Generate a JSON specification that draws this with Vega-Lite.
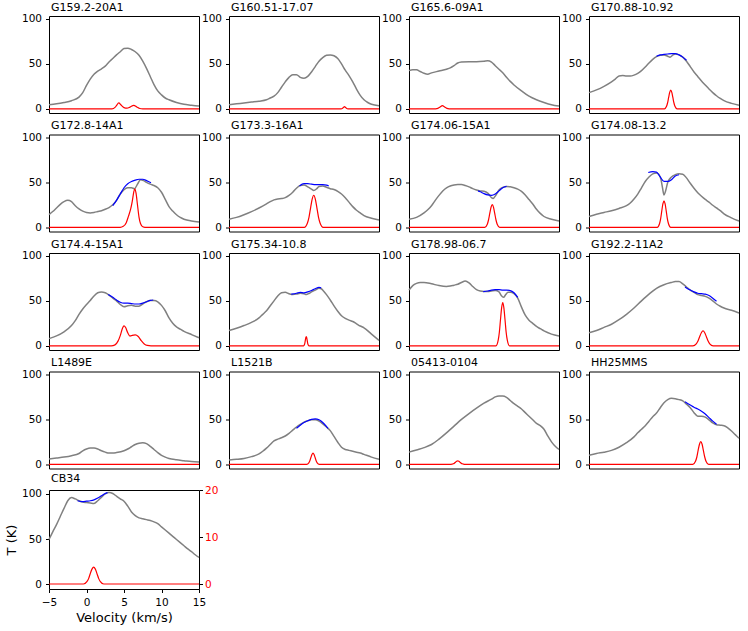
{
  "$schema": "https://vega.github.io/schema/vega-lite/v6.json",
  "background": "white",
  "padding": {"left": 4, "top": 1, "right": 5, "bottom": 5},
  "config": {
    "font": "DejaVu Sans",
    "view": {"stroke": "black", "strokeWidth": 1},
    "axis": {"grid": false, "domain": false, "labelFontSize": 10.5, "labelColor": "black", "tickColor": "black", "tickSize": 3.5, "labelPadding": 2, "labelFlush": false, "labelOverlap": false, "titleFontSize": 13, "titleFontWeight": "normal", "titleColor": "black"},
    "axisLeft": {"labelPadding": 4},
    "title": {"fontSize": 11, "fontWeight": "normal", "anchor": "start", "frame": "group", "offset": 1, "dx": 2, "color": "black"}
  },
  "datasets": {
    "p1_obs": [{"v":-5,"T":4.5},{"v":-4,"T":5.5},{"v":-3,"T":7},{"v":-2,"T":9},{"v":-1,"T":13},{"v":-0.5,"T":18},{"v":0,"T":26},{"v":0.5,"T":33},{"v":1,"T":38.5},{"v":1.5,"T":42},{"v":2,"T":44.5},{"v":2.5,"T":47.5},{"v":3,"T":52},{"v":3.5,"T":56},{"v":4,"T":60},{"v":4.5,"T":63.5},{"v":5,"T":67},{"v":5.5,"T":67.5},{"v":6,"T":66},{"v":6.5,"T":63.5},{"v":7,"T":59.5},{"v":7.5,"T":53},{"v":8,"T":45},{"v":8.5,"T":36},{"v":9,"T":27},{"v":9.5,"T":20},{"v":10,"T":15.5},{"v":10.5,"T":12},{"v":11,"T":10},{"v":12,"T":7},{"v":13,"T":5},{"v":14,"T":4},{"v":15,"T":3}],
    "p1_mod": [{"v":-5,"T":0},{"v":3.4,"T":0},{"v":3.8,"T":0.3},{"v":4.0,"T":0.7},{"v":4.3,"T":1.26},{"v":4.6,"T":0.8},{"v":5.0,"T":0.25},{"v":5.4,"T":0.12},{"v":5.8,"T":0.35},{"v":6.3,"T":0.74},{"v":6.7,"T":0.4},{"v":7.1,"T":0.06},{"v":7.5,"T":0},{"v":15,"T":0}],
    "p2_obs": [{"v":-5,"T":4.5},{"v":-4,"T":5.5},{"v":-3,"T":6.5},{"v":-2,"T":7.5},{"v":-1,"T":8.5},{"v":0,"T":10},{"v":0.5,"T":12},{"v":1,"T":14},{"v":1.5,"T":18},{"v":2,"T":24},{"v":2.5,"T":30},{"v":3,"T":35},{"v":3.5,"T":38},{"v":4,"T":38},{"v":4.5,"T":35},{"v":5,"T":34},{"v":5.5,"T":36},{"v":6,"T":41},{"v":6.5,"T":47},{"v":7,"T":53},{"v":7.5,"T":57},{"v":8,"T":59.5},{"v":8.5,"T":60},{"v":9,"T":59},{"v":9.5,"T":56},{"v":10,"T":50},{"v":10.5,"T":43},{"v":11,"T":37},{"v":11.5,"T":30},{"v":12,"T":22},{"v":12.5,"T":15},{"v":13,"T":10},{"v":13.5,"T":7},{"v":14,"T":5},{"v":15,"T":3.5}],
    "p2_mod": [{"v":-5,"T":0},{"v":9.95,"T":0},{"v":10.1,"T":0.06},{"v":10.25,"T":0.27},{"v":10.4,"T":0.45},{"v":10.55,"T":0.27},{"v":10.7,"T":0.06},{"v":10.85,"T":0},{"v":15,"T":0}],
    "p3_obs": [{"v":-5,"T":42.5},{"v":-4.5,"T":43.5},{"v":-4,"T":43.5},{"v":-3.5,"T":41.5},{"v":-3,"T":39.5},{"v":-2.5,"T":38.5},{"v":-2,"T":40},{"v":-1,"T":42},{"v":0,"T":44},{"v":0.5,"T":45.5},{"v":1,"T":48},{"v":1.5,"T":51},{"v":2,"T":52},{"v":3,"T":52.5},{"v":4,"T":52.5},{"v":5,"T":53},{"v":5.5,"T":53.5},{"v":6,"T":52},{"v":6.5,"T":48},{"v":7,"T":44},{"v":7.5,"T":40},{"v":8,"T":35},{"v":8.5,"T":30.5},{"v":9,"T":26.5},{"v":10,"T":20},{"v":11,"T":14},{"v":12,"T":10},{"v":13,"T":7},{"v":14,"T":4.5},{"v":15,"T":3}],
    "p3_mod": [{"v":-5,"T":0},{"v":-1.45,"T":0},{"v":-1.15,"T":0.09},{"v":-0.85,"T":0.4},{"v":-0.55,"T":0.66},{"v":-0.25,"T":0.4},{"v":0.05,"T":0.09},{"v":0.35,"T":0},{"v":15,"T":0}],
    "p4_obs": [{"v":-5,"T":18},{"v":-4,"T":21},{"v":-3,"T":25},{"v":-2,"T":30},{"v":-1.5,"T":33},{"v":-1,"T":36.5},{"v":-0.5,"T":37},{"v":0,"T":36.5},{"v":0.5,"T":36.5},{"v":1,"T":37.5},{"v":1.5,"T":39.5},{"v":2,"T":42.5},{"v":2.5,"T":46.5},{"v":3,"T":51},{"v":3.5,"T":55},{"v":4,"T":58},{"v":4.5,"T":59.5},{"v":5,"T":60},{"v":5.5,"T":58.5},{"v":5.8,"T":57.5},{"v":6.2,"T":60},{"v":6.5,"T":61},{"v":7,"T":60},{"v":7.5,"T":57.5},{"v":8,"T":53},{"v":8.5,"T":47},{"v":9,"T":41},{"v":9.5,"T":36},{"v":10,"T":31},{"v":10.5,"T":26.5},{"v":11,"T":22},{"v":11.5,"T":18},{"v":12,"T":14.5},{"v":12.5,"T":11.5},{"v":13,"T":9},{"v":14,"T":6},{"v":15,"T":4}],
    "p4_fit": [{"v":4,"T":58.5},{"v":4.5,"T":60},{"v":5,"T":60.5},{"v":5.5,"T":61},{"v":6,"T":61.5},{"v":6.5,"T":61.5},{"v":7,"T":60},{"v":7.5,"T":57.5},{"v":8,"T":54}],
    "p4_mod": [{"v":-5,"T":0},{"v":5.06,"T":0},{"v":5.34,"T":0.54},{"v":5.48,"T":1.3},{"v":5.62,"T":2.44},{"v":5.76,"T":3.52},{"v":5.9,"T":4.0},{"v":6.04,"T":3.52},{"v":6.18,"T":2.44},{"v":6.32,"T":1.3},{"v":6.46,"T":0.54},{"v":6.74,"T":0},{"v":15,"T":0}],
    "p5_obs": [{"v":-5,"T":14},{"v":-4.5,"T":17.5},{"v":-4,"T":21.5},{"v":-3.5,"T":25.5},{"v":-3,"T":28.5},{"v":-2.5,"T":30},{"v":-2,"T":28.5},{"v":-1.5,"T":24},{"v":-1,"T":20.5},{"v":-0.5,"T":18},{"v":0,"T":16.5},{"v":0.5,"T":16},{"v":1,"T":16.5},{"v":1.5,"T":17.5},{"v":2,"T":18.5},{"v":2.5,"T":20},{"v":3,"T":22},{"v":3.5,"T":25},{"v":4,"T":30},{"v":4.5,"T":37},{"v":5,"T":42},{"v":5.5,"T":44},{"v":6,"T":44},{"v":6.4,"T":43},{"v":6.8,"T":48},{"v":7.2,"T":53},{"v":7.6,"T":52},{"v":8,"T":50},{"v":8.5,"T":48},{"v":9,"T":46.5},{"v":9.5,"T":44},{"v":10,"T":39},{"v":10.5,"T":31},{"v":11,"T":23},{"v":11.5,"T":18},{"v":12,"T":14},{"v":12.5,"T":11},{"v":13,"T":9},{"v":14,"T":7},{"v":15,"T":6}],
    "p5_fit": [{"v":3.5,"T":24},{"v":4,"T":30},{"v":4.5,"T":37},{"v":5,"T":44},{"v":5.5,"T":48.5},{"v":6,"T":51},{"v":6.5,"T":52.5},{"v":7,"T":53.5},{"v":7.5,"T":53.5},{"v":8,"T":52},{"v":8.6,"T":49.5}],
    "p5_mod": [{"v":-5,"T":0},{"v":4.5,"T":0},{"v":4.9,"T":0.2},{"v":5.3,"T":1.0},{"v":5.6,"T":2.4},{"v":5.9,"T":4.0},{"v":6.1,"T":5.6},{"v":6.3,"T":7.6},{"v":6.45,"T":8.3},{"v":6.6,"T":7.4},{"v":6.8,"T":4.8},{"v":7.0,"T":2.2},{"v":7.2,"T":0.8},{"v":7.5,"T":0.1},{"v":7.8,"T":0},{"v":15,"T":0}],
    "p6_obs": [{"v":-5,"T":9},{"v":-4,"T":11},{"v":-3,"T":14},{"v":-2,"T":17.5},{"v":-1,"T":21.5},{"v":0,"T":26},{"v":0.5,"T":28.5},{"v":1,"T":30.5},{"v":1.5,"T":31.5},{"v":2,"T":32},{"v":2.5,"T":33},{"v":3,"T":35.5},{"v":3.5,"T":39},{"v":4,"T":43.5},{"v":4.5,"T":46.5},{"v":5,"T":47},{"v":5.5,"T":45},{"v":6,"T":42.5},{"v":6.3,"T":41},{"v":6.7,"T":43},{"v":7,"T":45.5},{"v":7.5,"T":46},{"v":8,"T":44.5},{"v":8.5,"T":43},{"v":9,"T":42},{"v":9.5,"T":40},{"v":10,"T":37},{"v":10.5,"T":33},{"v":11,"T":28},{"v":11.5,"T":23},{"v":12,"T":19},{"v":12.5,"T":16},{"v":13,"T":13},{"v":14,"T":10},{"v":15,"T":8}],
    "p6_fit": [{"v":4.4,"T":46},{"v":5,"T":48.5},{"v":5.5,"T":48.5},{"v":6,"T":48},{"v":6.5,"T":47.5},{"v":7,"T":47.5},{"v":7.5,"T":47.5},{"v":8,"T":47},{"v":8.3,"T":46}],
    "p6_mod": [{"v":-5,"T":0},{"v":5.04,"T":0},{"v":5.46,"T":0.93},{"v":5.67,"T":2.2},{"v":5.88,"T":4.2},{"v":6.09,"T":6.07},{"v":6.3,"T":6.9},{"v":6.51,"T":6.07},{"v":6.72,"T":4.2},{"v":6.93,"T":2.2},{"v":7.14,"T":0.93},{"v":7.56,"T":0},{"v":15,"T":0}],
    "p7_obs": [{"v":-5,"T":9},{"v":-4,"T":11},{"v":-3,"T":16},{"v":-2.5,"T":19.5},{"v":-2,"T":24},{"v":-1.5,"T":30},{"v":-1,"T":35.5},{"v":-0.5,"T":40.5},{"v":0,"T":44},{"v":0.5,"T":46},{"v":1,"T":47},{"v":1.5,"T":47.5},{"v":2,"T":47.5},{"v":2.5,"T":46.5},{"v":3,"T":45},{"v":3.5,"T":43},{"v":4,"T":41.5},{"v":4.5,"T":40.5},{"v":5,"T":40},{"v":5.5,"T":38},{"v":6,"T":33},{"v":6.2,"T":32},{"v":6.6,"T":36},{"v":7,"T":41.5},{"v":7.5,"T":44.5},{"v":8,"T":45.5},{"v":8.5,"T":45},{"v":9,"T":44},{"v":9.5,"T":42.5},{"v":10,"T":40},{"v":10.5,"T":36},{"v":11,"T":31},{"v":11.5,"T":26},{"v":12,"T":20},{"v":12.5,"T":15.5},{"v":13,"T":12},{"v":14,"T":9},{"v":15,"T":7}],
    "p7_fit": [{"v":4.2,"T":40.5},{"v":4.5,"T":39.5},{"v":5,"T":37.5},{"v":5.5,"T":36},{"v":6,"T":35.5},{"v":6.5,"T":37},{"v":7,"T":40.5},{"v":7.5,"T":44},{"v":8,"T":45.5}],
    "p7_mod": [{"v":-5,"T":0},{"v":5.11,"T":0},{"v":5.44,"T":0.66},{"v":5.6,"T":1.57},{"v":5.77,"T":2.99},{"v":5.94,"T":4.31},{"v":6.1,"T":4.9},{"v":6.27,"T":4.31},{"v":6.43,"T":2.99},{"v":6.6,"T":1.57},{"v":6.76,"T":0.66},{"v":7.09,"T":0},{"v":15,"T":0}],
    "p8_obs": [{"v":-5,"T":12},{"v":-4,"T":14.5},{"v":-3,"T":16.5},{"v":-2,"T":18.5},{"v":-1,"T":21},{"v":0,"T":24},{"v":0.5,"T":27},{"v":1,"T":31.5},{"v":1.5,"T":37},{"v":2,"T":44},{"v":2.5,"T":51},{"v":3,"T":56},{"v":3.5,"T":59.5},{"v":4,"T":60.5},{"v":4.3,"T":59},{"v":4.6,"T":53},{"v":4.8,"T":44},{"v":5,"T":36},{"v":5.2,"T":40},{"v":5.5,"T":50},{"v":6,"T":56},{"v":6.5,"T":58.5},{"v":7,"T":59.5},{"v":7.5,"T":59},{"v":8,"T":55},{"v":8.5,"T":49},{"v":9,"T":43.5},{"v":9.5,"T":38.5},{"v":10,"T":34.5},{"v":10.5,"T":31},{"v":11,"T":28},{"v":11.5,"T":24.5},{"v":12,"T":21.5},{"v":12.5,"T":18.5},{"v":13,"T":15},{"v":14,"T":10.5},{"v":15,"T":7}],
    "p8_fit": [{"v":2.9,"T":61},{"v":3.5,"T":62},{"v":4,"T":61.5},{"v":4.5,"T":56},{"v":5,"T":51},{"v":5.5,"T":51},{"v":6,"T":53},{"v":6.5,"T":57},{"v":7,"T":58.5}],
    "p8_mod": [{"v":-5,"T":0},{"v":4.1,"T":0},{"v":4.4,"T":0.77},{"v":4.55,"T":1.82},{"v":4.7,"T":3.48},{"v":4.85,"T":5.02},{"v":5.0,"T":5.7},{"v":5.15,"T":5.02},{"v":5.3,"T":3.48},{"v":5.45,"T":1.82},{"v":5.6,"T":0.77},{"v":5.9,"T":0},{"v":15,"T":0}],
    "p9_obs": [{"v":-5,"T":8},{"v":-4,"T":11},{"v":-3,"T":15.5},{"v":-2,"T":22.5},{"v":-1.5,"T":28},{"v":-1,"T":35},{"v":-0.5,"T":41},{"v":0,"T":46},{"v":0.5,"T":50.5},{"v":1,"T":55.5},{"v":1.5,"T":59},{"v":2,"T":60},{"v":2.5,"T":59},{"v":3,"T":56.5},{"v":3.5,"T":53},{"v":4,"T":50},{"v":4.5,"T":46},{"v":5,"T":43.5},{"v":5.5,"T":44.5},{"v":6,"T":45},{"v":6.5,"T":44},{"v":7,"T":44},{"v":7.5,"T":46.5},{"v":8,"T":49},{"v":8.5,"T":50.5},{"v":9,"T":50.5},{"v":9.5,"T":49},{"v":10,"T":45},{"v":10.5,"T":39},{"v":11,"T":31},{"v":11.5,"T":25},{"v":12,"T":21},{"v":12.5,"T":18.5},{"v":13,"T":16},{"v":14,"T":12.5},{"v":15,"T":9}],
    "p9_fit": [{"v":2.9,"T":57},{"v":3.5,"T":54},{"v":4,"T":51},{"v":4.5,"T":48.5},{"v":5,"T":47.5},{"v":5.5,"T":47.5},{"v":6,"T":47},{"v":6.5,"T":46.5},{"v":7,"T":46.5},{"v":7.5,"T":47.5},{"v":8,"T":49},{"v":8.5,"T":50.5},{"v":8.9,"T":51}],
    "p9_mod": [{"v":-5,"T":0},{"v":3.3,"T":0},{"v":3.8,"T":0.2},{"v":4.2,"T":1.0},{"v":4.5,"T":2.2},{"v":4.8,"T":3.8},{"v":5.0,"T":4.3},{"v":5.2,"T":4.0},{"v":5.5,"T":2.8},{"v":5.8,"T":2.1},{"v":6.1,"T":2.25},{"v":6.5,"T":2.35},{"v":6.9,"T":2.0},{"v":7.3,"T":1.1},{"v":7.7,"T":0.4},{"v":8.1,"T":0.08},{"v":8.6,"T":0},{"v":15,"T":0}],
    "p10_obs": [{"v":-5,"T":17},{"v":-4,"T":19.5},{"v":-3,"T":22.5},{"v":-2,"T":26},{"v":-1,"T":31},{"v":-0.5,"T":35},{"v":0,"T":39},{"v":0.5,"T":44.5},{"v":1,"T":50},{"v":1.5,"T":55.5},{"v":2,"T":59},{"v":2.5,"T":59.5},{"v":3,"T":58},{"v":3.5,"T":57},{"v":4,"T":57.5},{"v":4.5,"T":58.5},{"v":5,"T":58},{"v":5.3,"T":57},{"v":5.7,"T":58.5},{"v":6,"T":60},{"v":6.5,"T":62},{"v":7,"T":64},{"v":7.3,"T":63.5},{"v":7.6,"T":61},{"v":8,"T":57},{"v":8.5,"T":51},{"v":9,"T":44.5},{"v":9.5,"T":38.5},{"v":10,"T":33.5},{"v":10.5,"T":30.5},{"v":11,"T":28.5},{"v":11.5,"T":27},{"v":12,"T":24.5},{"v":12.5,"T":22},{"v":13,"T":20},{"v":14,"T":13},{"v":15,"T":6}],
    "p10_fit": [{"v":3.3,"T":57.5},{"v":4,"T":58.5},{"v":4.5,"T":59.5},{"v":5,"T":59},{"v":5.5,"T":60},{"v":6,"T":61.5},{"v":6.5,"T":63.5},{"v":7,"T":65},{"v":7.3,"T":64.5}],
    "p10_mod": [{"v":-5,"T":0},{"v":4.94,"T":0},{"v":5.06,"T":0.27},{"v":5.12,"T":0.64},{"v":5.18,"T":1.22},{"v":5.24,"T":1.76},{"v":5.3,"T":2.0},{"v":5.36,"T":1.76},{"v":5.42,"T":1.22},{"v":5.48,"T":0.64},{"v":5.54,"T":0.27},{"v":5.66,"T":0},{"v":15,"T":0}],
    "p11_obs": [{"v":-5,"T":62},{"v":-4.5,"T":67},{"v":-4,"T":69.5},{"v":-3.5,"T":70.5},{"v":-3,"T":70.5},{"v":-2,"T":69},{"v":-1,"T":67},{"v":0,"T":66},{"v":0.5,"T":66.5},{"v":1,"T":67.5},{"v":1.5,"T":68.5},{"v":2,"T":70.5},{"v":2.5,"T":72},{"v":3,"T":70},{"v":3.5,"T":66},{"v":4,"T":62.5},{"v":4.5,"T":61},{"v":5,"T":60.5},{"v":5.5,"T":60.5},{"v":6,"T":61},{"v":6.5,"T":61.5},{"v":7,"T":60},{"v":7.3,"T":56},{"v":7.6,"T":54},{"v":7.9,"T":57},{"v":8.2,"T":59.5},{"v":8.5,"T":59.5},{"v":9,"T":58},{"v":9.5,"T":53},{"v":10,"T":43},{"v":10.5,"T":34},{"v":11,"T":28.5},{"v":11.5,"T":25},{"v":12,"T":21.5},{"v":12.5,"T":19},{"v":13,"T":16.5},{"v":14,"T":13},{"v":15,"T":11}],
    "p11_fit": [{"v":4.9,"T":60.3},{"v":5.5,"T":61},{"v":6,"T":62},{"v":6.5,"T":62.5},{"v":7,"T":62.5},{"v":7.5,"T":62},{"v":8,"T":62},{"v":8.5,"T":61.5},{"v":9,"T":59},{"v":9.5,"T":54}],
    "p11_mod": [{"v":-5,"T":0},{"v":6.6,"T":0},{"v":6.9,"T":1.26},{"v":7.05,"T":2.98},{"v":7.2,"T":5.67},{"v":7.35,"T":8.18},{"v":7.5,"T":9.3},{"v":7.65,"T":8.18},{"v":7.8,"T":5.67},{"v":7.95,"T":2.98},{"v":8.1,"T":1.26},{"v":8.4,"T":0},{"v":15,"T":0}],
    "p12_obs": [{"v":-5,"T":14.5},{"v":-4,"T":17},{"v":-3,"T":20.5},{"v":-2,"T":24},{"v":-1,"T":29},{"v":0,"T":35},{"v":1,"T":42},{"v":2,"T":50},{"v":3,"T":57.5},{"v":4,"T":64},{"v":5,"T":68},{"v":6,"T":70.5},{"v":6.5,"T":71.5},{"v":7,"T":71.5},{"v":7.5,"T":69},{"v":8,"T":65.5},{"v":8.5,"T":62},{"v":9,"T":59.5},{"v":9.5,"T":57},{"v":10,"T":56},{"v":10.5,"T":55},{"v":11,"T":53},{"v":11.5,"T":50},{"v":12,"T":46.5},{"v":12.5,"T":44},{"v":13,"T":42},{"v":14,"T":39.5},{"v":15,"T":36.5}],
    "p12_fit": [{"v":7.8,"T":65.5},{"v":8.5,"T":62},{"v":9,"T":60},{"v":9.5,"T":58.5},{"v":10,"T":58},{"v":10.5,"T":57.5},{"v":11,"T":56},{"v":11.5,"T":53},{"v":12,"T":49.5}],
    "p12_mod": [{"v":-5,"T":0},{"v":8.85,"T":0},{"v":9.3,"T":0.43},{"v":9.53,"T":1.02},{"v":9.75,"T":1.95},{"v":9.98,"T":2.82},{"v":10.2,"T":3.2},{"v":10.43,"T":2.82},{"v":10.65,"T":1.95},{"v":10.88,"T":1.02},{"v":11.1,"T":0.43},{"v":11.55,"T":0},{"v":15,"T":0}],
    "p13_obs": [{"v":-5,"T":6},{"v":-4,"T":7},{"v":-3,"T":8},{"v":-2,"T":9.5},{"v":-1,"T":12},{"v":-0.5,"T":15},{"v":0,"T":17},{"v":0.5,"T":18},{"v":1,"T":18},{"v":1.5,"T":17},{"v":2,"T":15},{"v":2.5,"T":13.5},{"v":3,"T":12.5},{"v":3.5,"T":12.5},{"v":4,"T":13},{"v":5,"T":15},{"v":5.5,"T":17},{"v":6,"T":19.5},{"v":6.5,"T":22},{"v":7,"T":23.5},{"v":7.5,"T":24},{"v":8,"T":23},{"v":8.5,"T":20},{"v":9,"T":16.5},{"v":9.5,"T":13},{"v":10,"T":10},{"v":10.5,"T":8},{"v":11,"T":6.5},{"v":12,"T":5},{"v":13,"T":4},{"v":14,"T":3},{"v":15,"T":2.5}],
    "p13_mod": [{"v":-5,"T":0},{"v":15,"T":0}],
    "p14_obs": [{"v":-5,"T":4.8},{"v":-4,"T":5.5},{"v":-3,"T":6.5},{"v":-2,"T":8.5},{"v":-1,"T":11.5},{"v":-0.5,"T":14.5},{"v":0,"T":18},{"v":0.5,"T":22},{"v":1,"T":26},{"v":1.5,"T":28},{"v":2,"T":29.5},{"v":2.5,"T":31.5},{"v":3,"T":34.5},{"v":3.5,"T":38},{"v":4,"T":41.5},{"v":4.5,"T":44.5},{"v":5,"T":47},{"v":5.5,"T":48.5},{"v":6,"T":49.5},{"v":6.5,"T":49.5},{"v":7,"T":48},{"v":7.5,"T":45},{"v":8,"T":41.5},{"v":8.5,"T":37.5},{"v":9,"T":31},{"v":9.5,"T":24.5},{"v":10,"T":19},{"v":10.5,"T":16.5},{"v":11,"T":15.5},{"v":11.5,"T":14.5},{"v":12,"T":13.5},{"v":12.5,"T":12.5},{"v":13,"T":11},{"v":14,"T":8},{"v":15,"T":5.5}],
    "p14_fit": [{"v":4,"T":40},{"v":4.5,"T":43.5},{"v":5,"T":46.5},{"v":5.5,"T":48.5},{"v":6,"T":50},{"v":6.5,"T":50.5},{"v":7,"T":49.5},{"v":7.5,"T":46.5},{"v":8,"T":42},{"v":8.2,"T":40}],
    "p14_mod": [{"v":-5,"T":0},{"v":5.36,"T":0},{"v":5.64,"T":0.32},{"v":5.78,"T":0.77},{"v":5.92,"T":1.46},{"v":6.06,"T":2.11},{"v":6.2,"T":2.4},{"v":6.34,"T":2.11},{"v":6.48,"T":1.46},{"v":6.62,"T":0.77},{"v":6.76,"T":0.32},{"v":7.04,"T":0},{"v":15,"T":0}],
    "p15_obs": [{"v":-5,"T":13.5},{"v":-4,"T":16},{"v":-3,"T":18.5},{"v":-2,"T":22},{"v":-1,"T":28},{"v":0,"T":35},{"v":1,"T":42.5},{"v":2,"T":50},{"v":3,"T":56.5},{"v":4,"T":62.5},{"v":5,"T":68},{"v":6,"T":72.5},{"v":6.5,"T":75},{"v":7,"T":76},{"v":7.5,"T":76},{"v":8,"T":74.5},{"v":8.5,"T":71},{"v":9,"T":67.5},{"v":9.5,"T":64.5},{"v":10,"T":61.5},{"v":10.5,"T":57.5},{"v":11,"T":53.5},{"v":11.5,"T":49.5},{"v":12,"T":45.5},{"v":12.5,"T":43},{"v":13,"T":39},{"v":13.5,"T":31.5},{"v":14,"T":25},{"v":14.5,"T":20},{"v":15,"T":16.5}],
    "p15_mod": [{"v":-5,"T":0},{"v":0.6,"T":0},{"v":0.9,"T":0.1},{"v":1.05,"T":0.24},{"v":1.2,"T":0.45},{"v":1.35,"T":0.65},{"v":1.5,"T":0.74},{"v":1.65,"T":0.65},{"v":1.8,"T":0.45},{"v":1.95,"T":0.24},{"v":2.1,"T":0.1},{"v":2.4,"T":0},{"v":15,"T":0}],
    "p16_obs": [{"v":-5,"T":10},{"v":-4,"T":12},{"v":-3,"T":13.5},{"v":-2,"T":15.5},{"v":-1,"T":19},{"v":0,"T":24},{"v":1,"T":30.5},{"v":1.5,"T":35},{"v":2,"T":39},{"v":2.5,"T":43},{"v":3,"T":48},{"v":3.5,"T":53},{"v":4,"T":57},{"v":4.5,"T":63},{"v":5,"T":68.5},{"v":5.5,"T":72},{"v":6,"T":73.5},{"v":6.5,"T":73},{"v":7,"T":72},{"v":7.5,"T":70.5},{"v":8,"T":67},{"v":8.5,"T":63},{"v":9,"T":57.5},{"v":9.5,"T":53.5},{"v":10,"T":53.5},{"v":10.5,"T":52.5},{"v":11,"T":49.5},{"v":11.5,"T":46},{"v":12,"T":44},{"v":12.5,"T":43.5},{"v":13,"T":43},{"v":13.5,"T":40.5},{"v":14,"T":37},{"v":14.5,"T":33},{"v":15,"T":29}],
    "p16_fit": [{"v":7.8,"T":69.5},{"v":8.5,"T":66},{"v":9,"T":63.5},{"v":9.5,"T":61.5},{"v":10,"T":59},{"v":10.5,"T":56},{"v":11,"T":52},{"v":11.5,"T":48},{"v":12,"T":44.5}],
    "p16_mod": [{"v":-5,"T":0},{"v":8.85,"T":0},{"v":9.2,"T":0.66},{"v":9.38,"T":1.57},{"v":9.55,"T":2.99},{"v":9.73,"T":4.31},{"v":9.9,"T":4.9},{"v":10.08,"T":4.31},{"v":10.25,"T":2.99},{"v":10.43,"T":1.57},{"v":10.6,"T":0.66},{"v":10.95,"T":0},{"v":15,"T":0}],
    "p17_obs": [{"v":-5,"T":49.5},{"v":-4.5,"T":58},{"v":-4,"T":66},{"v":-3.5,"T":75},{"v":-3,"T":84},{"v":-2.5,"T":92.5},{"v":-2,"T":96},{"v":-1.5,"T":94.5},{"v":-1,"T":92.5},{"v":-0.5,"T":91},{"v":0,"T":90.5},{"v":0.5,"T":90},{"v":1,"T":89.5},{"v":1.5,"T":92.5},{"v":2,"T":96.5},{"v":2.5,"T":100},{"v":3,"T":101.5},{"v":3.5,"T":100.5},{"v":4,"T":97.5},{"v":4.5,"T":94.5},{"v":5,"T":92},{"v":5.5,"T":86.5},{"v":6,"T":80},{"v":6.5,"T":76},{"v":7,"T":73.5},{"v":7.5,"T":72.5},{"v":8,"T":71.5},{"v":8.5,"T":70.5},{"v":9,"T":69},{"v":9.5,"T":67},{"v":10,"T":63.5},{"v":10.5,"T":60},{"v":11,"T":56.5},{"v":11.5,"T":53},{"v":12,"T":49.5},{"v":12.5,"T":46},{"v":13,"T":42.5},{"v":13.5,"T":39},{"v":14,"T":36},{"v":14.5,"T":32.5},{"v":15,"T":29.5}],
    "p17_fit": [{"v":-1.2,"T":92.5},{"v":-0.5,"T":91.5},{"v":0,"T":92},{"v":0.5,"T":92.5},{"v":1,"T":93.5},{"v":1.5,"T":95.5},{"v":2,"T":98},{"v":2.5,"T":100.5},{"v":2.8,"T":101.5}],
    "p17_mod": [{"v":-5,"T":0},{"v":-0.4,"T":0},{"v":0.05,"T":0.49},{"v":0.28,"T":1.15},{"v":0.5,"T":2.2},{"v":0.73,"T":3.17},{"v":0.95,"T":3.6},{"v":1.18,"T":3.17},{"v":1.4,"T":2.2},{"v":1.63,"T":1.15},{"v":1.85,"T":0.49},{"v":2.3,"T":0},{"v":15,"T":0}]
  },
  "columns": 4,
  "spacing": {"row": 21.5, "column": 30},
  "bounds": "flush",
  "concat": [
    {"title": "G159.2-20A1", "width": 150, "height": 97, "resolve": {"scale": {"y": "independent"}}, "layer": [
      {"data": {"name": "p1_obs"}, "mark": {"type": "line", "color": "grey", "strokeWidth": 1.5, "interpolate": "monotone"}, "encoding": {"x": {"field": "v", "type": "quantitative", "scale": {"domain": [-5, 15], "nice": false}, "axis": null}, "y": {"field": "T", "type": "quantitative", "scale": {"domain": [-4.7, 103.3], "nice": false, "zero": false}, "axis": {"values": [0, 50, 100], "title": null}}}},
      {"data": {"name": "p1_mod"}, "mark": {"type": "line", "color": "red", "strokeWidth": 1.2, "interpolate": "monotone"}, "encoding": {"x": {"field": "v", "type": "quantitative", "scale": {"domain": [-5, 15], "nice": false}, "axis": null}, "y": {"field": "T", "type": "quantitative", "scale": {"domain": [-0.91, 20], "nice": false, "zero": false}, "axis": null}}}
    ]},
    {"title": "G160.51-17.07", "width": 150, "height": 97, "resolve": {"scale": {"y": "independent"}}, "layer": [
      {"data": {"name": "p2_obs"}, "mark": {"type": "line", "color": "grey", "strokeWidth": 1.5, "interpolate": "monotone"}, "encoding": {"x": {"field": "v", "type": "quantitative", "scale": {"domain": [-5, 15], "nice": false}, "axis": null}, "y": {"field": "T", "type": "quantitative", "scale": {"domain": [-4.7, 103.3], "nice": false, "zero": false}, "axis": {"values": [0, 50, 100], "title": null}}}},
      {"data": {"name": "p2_mod"}, "mark": {"type": "line", "color": "red", "strokeWidth": 1.2, "interpolate": "monotone"}, "encoding": {"x": {"field": "v", "type": "quantitative", "scale": {"domain": [-5, 15], "nice": false}, "axis": null}, "y": {"field": "T", "type": "quantitative", "scale": {"domain": [-0.91, 20], "nice": false, "zero": false}, "axis": null}}}
    ]},
    {"title": "G165.6-09A1", "width": 150, "height": 97, "resolve": {"scale": {"y": "independent"}}, "layer": [
      {"data": {"name": "p3_obs"}, "mark": {"type": "line", "color": "grey", "strokeWidth": 1.5, "interpolate": "monotone"}, "encoding": {"x": {"field": "v", "type": "quantitative", "scale": {"domain": [-5, 15], "nice": false}, "axis": null}, "y": {"field": "T", "type": "quantitative", "scale": {"domain": [-4.7, 103.3], "nice": false, "zero": false}, "axis": {"values": [0, 50, 100], "title": null}}}},
      {"data": {"name": "p3_mod"}, "mark": {"type": "line", "color": "red", "strokeWidth": 1.2, "interpolate": "monotone"}, "encoding": {"x": {"field": "v", "type": "quantitative", "scale": {"domain": [-5, 15], "nice": false}, "axis": null}, "y": {"field": "T", "type": "quantitative", "scale": {"domain": [-0.91, 20], "nice": false, "zero": false}, "axis": null}}}
    ]},
    {"title": "G170.88-10.92", "width": 150, "height": 97, "resolve": {"scale": {"y": "independent"}}, "layer": [
      {"data": {"name": "p4_obs"}, "mark": {"type": "line", "color": "grey", "strokeWidth": 1.5, "interpolate": "monotone"}, "encoding": {"x": {"field": "v", "type": "quantitative", "scale": {"domain": [-5, 15], "nice": false}, "axis": null}, "y": {"field": "T", "type": "quantitative", "scale": {"domain": [-4.7, 103.3], "nice": false, "zero": false}, "axis": {"values": [0, 50, 100], "title": null}}}},
      {"data": {"name": "p4_fit"}, "mark": {"type": "line", "color": "blue", "strokeWidth": 1.2, "interpolate": "monotone"}, "encoding": {"x": {"field": "v", "type": "quantitative", "scale": {"domain": [-5, 15], "nice": false}, "axis": null}, "y": {"field": "T", "type": "quantitative", "scale": {"domain": [-4.7, 103.3], "nice": false, "zero": false}, "axis": null}}},
      {"data": {"name": "p4_mod"}, "mark": {"type": "line", "color": "red", "strokeWidth": 1.2, "interpolate": "monotone"}, "encoding": {"x": {"field": "v", "type": "quantitative", "scale": {"domain": [-5, 15], "nice": false}, "axis": null}, "y": {"field": "T", "type": "quantitative", "scale": {"domain": [-0.91, 20], "nice": false, "zero": false}, "axis": null}}}
    ]},
    {"title": "G172.8-14A1", "width": 150, "height": 97, "resolve": {"scale": {"y": "independent"}}, "layer": [
      {"data": {"name": "p5_obs"}, "mark": {"type": "line", "color": "grey", "strokeWidth": 1.5, "interpolate": "monotone"}, "encoding": {"x": {"field": "v", "type": "quantitative", "scale": {"domain": [-5, 15], "nice": false}, "axis": null}, "y": {"field": "T", "type": "quantitative", "scale": {"domain": [-4.7, 103.3], "nice": false, "zero": false}, "axis": {"values": [0, 50, 100], "title": null}}}},
      {"data": {"name": "p5_fit"}, "mark": {"type": "line", "color": "blue", "strokeWidth": 1.2, "interpolate": "monotone"}, "encoding": {"x": {"field": "v", "type": "quantitative", "scale": {"domain": [-5, 15], "nice": false}, "axis": null}, "y": {"field": "T", "type": "quantitative", "scale": {"domain": [-4.7, 103.3], "nice": false, "zero": false}, "axis": null}}},
      {"data": {"name": "p5_mod"}, "mark": {"type": "line", "color": "red", "strokeWidth": 1.2, "interpolate": "monotone"}, "encoding": {"x": {"field": "v", "type": "quantitative", "scale": {"domain": [-5, 15], "nice": false}, "axis": null}, "y": {"field": "T", "type": "quantitative", "scale": {"domain": [-0.91, 20], "nice": false, "zero": false}, "axis": null}}}
    ]},
    {"title": "G173.3-16A1", "width": 150, "height": 97, "resolve": {"scale": {"y": "independent"}}, "layer": [
      {"data": {"name": "p6_obs"}, "mark": {"type": "line", "color": "grey", "strokeWidth": 1.5, "interpolate": "monotone"}, "encoding": {"x": {"field": "v", "type": "quantitative", "scale": {"domain": [-5, 15], "nice": false}, "axis": null}, "y": {"field": "T", "type": "quantitative", "scale": {"domain": [-4.7, 103.3], "nice": false, "zero": false}, "axis": {"values": [0, 50, 100], "title": null}}}},
      {"data": {"name": "p6_fit"}, "mark": {"type": "line", "color": "blue", "strokeWidth": 1.2, "interpolate": "monotone"}, "encoding": {"x": {"field": "v", "type": "quantitative", "scale": {"domain": [-5, 15], "nice": false}, "axis": null}, "y": {"field": "T", "type": "quantitative", "scale": {"domain": [-4.7, 103.3], "nice": false, "zero": false}, "axis": null}}},
      {"data": {"name": "p6_mod"}, "mark": {"type": "line", "color": "red", "strokeWidth": 1.2, "interpolate": "monotone"}, "encoding": {"x": {"field": "v", "type": "quantitative", "scale": {"domain": [-5, 15], "nice": false}, "axis": null}, "y": {"field": "T", "type": "quantitative", "scale": {"domain": [-0.91, 20], "nice": false, "zero": false}, "axis": null}}}
    ]},
    {"title": "G174.06-15A1", "width": 150, "height": 97, "resolve": {"scale": {"y": "independent"}}, "layer": [
      {"data": {"name": "p7_obs"}, "mark": {"type": "line", "color": "grey", "strokeWidth": 1.5, "interpolate": "monotone"}, "encoding": {"x": {"field": "v", "type": "quantitative", "scale": {"domain": [-5, 15], "nice": false}, "axis": null}, "y": {"field": "T", "type": "quantitative", "scale": {"domain": [-4.7, 103.3], "nice": false, "zero": false}, "axis": {"values": [0, 50, 100], "title": null}}}},
      {"data": {"name": "p7_fit"}, "mark": {"type": "line", "color": "blue", "strokeWidth": 1.2, "interpolate": "monotone"}, "encoding": {"x": {"field": "v", "type": "quantitative", "scale": {"domain": [-5, 15], "nice": false}, "axis": null}, "y": {"field": "T", "type": "quantitative", "scale": {"domain": [-4.7, 103.3], "nice": false, "zero": false}, "axis": null}}},
      {"data": {"name": "p7_mod"}, "mark": {"type": "line", "color": "red", "strokeWidth": 1.2, "interpolate": "monotone"}, "encoding": {"x": {"field": "v", "type": "quantitative", "scale": {"domain": [-5, 15], "nice": false}, "axis": null}, "y": {"field": "T", "type": "quantitative", "scale": {"domain": [-0.91, 20], "nice": false, "zero": false}, "axis": null}}}
    ]},
    {"title": "G174.08-13.2", "width": 150, "height": 97, "resolve": {"scale": {"y": "independent"}}, "layer": [
      {"data": {"name": "p8_obs"}, "mark": {"type": "line", "color": "grey", "strokeWidth": 1.5, "interpolate": "monotone"}, "encoding": {"x": {"field": "v", "type": "quantitative", "scale": {"domain": [-5, 15], "nice": false}, "axis": null}, "y": {"field": "T", "type": "quantitative", "scale": {"domain": [-4.7, 103.3], "nice": false, "zero": false}, "axis": {"values": [0, 50, 100], "title": null}}}},
      {"data": {"name": "p8_fit"}, "mark": {"type": "line", "color": "blue", "strokeWidth": 1.2, "interpolate": "monotone"}, "encoding": {"x": {"field": "v", "type": "quantitative", "scale": {"domain": [-5, 15], "nice": false}, "axis": null}, "y": {"field": "T", "type": "quantitative", "scale": {"domain": [-4.7, 103.3], "nice": false, "zero": false}, "axis": null}}},
      {"data": {"name": "p8_mod"}, "mark": {"type": "line", "color": "red", "strokeWidth": 1.2, "interpolate": "monotone"}, "encoding": {"x": {"field": "v", "type": "quantitative", "scale": {"domain": [-5, 15], "nice": false}, "axis": null}, "y": {"field": "T", "type": "quantitative", "scale": {"domain": [-0.91, 20], "nice": false, "zero": false}, "axis": null}}}
    ]},
    {"title": "G174.4-15A1", "width": 150, "height": 97, "resolve": {"scale": {"y": "independent"}}, "layer": [
      {"data": {"name": "p9_obs"}, "mark": {"type": "line", "color": "grey", "strokeWidth": 1.5, "interpolate": "monotone"}, "encoding": {"x": {"field": "v", "type": "quantitative", "scale": {"domain": [-5, 15], "nice": false}, "axis": null}, "y": {"field": "T", "type": "quantitative", "scale": {"domain": [-4.7, 103.3], "nice": false, "zero": false}, "axis": {"values": [0, 50, 100], "title": null}}}},
      {"data": {"name": "p9_fit"}, "mark": {"type": "line", "color": "blue", "strokeWidth": 1.2, "interpolate": "monotone"}, "encoding": {"x": {"field": "v", "type": "quantitative", "scale": {"domain": [-5, 15], "nice": false}, "axis": null}, "y": {"field": "T", "type": "quantitative", "scale": {"domain": [-4.7, 103.3], "nice": false, "zero": false}, "axis": null}}},
      {"data": {"name": "p9_mod"}, "mark": {"type": "line", "color": "red", "strokeWidth": 1.2, "interpolate": "monotone"}, "encoding": {"x": {"field": "v", "type": "quantitative", "scale": {"domain": [-5, 15], "nice": false}, "axis": null}, "y": {"field": "T", "type": "quantitative", "scale": {"domain": [-0.91, 20], "nice": false, "zero": false}, "axis": null}}}
    ]},
    {"title": "G175.34-10.8", "width": 150, "height": 97, "resolve": {"scale": {"y": "independent"}}, "layer": [
      {"data": {"name": "p10_obs"}, "mark": {"type": "line", "color": "grey", "strokeWidth": 1.5, "interpolate": "monotone"}, "encoding": {"x": {"field": "v", "type": "quantitative", "scale": {"domain": [-5, 15], "nice": false}, "axis": null}, "y": {"field": "T", "type": "quantitative", "scale": {"domain": [-4.7, 103.3], "nice": false, "zero": false}, "axis": {"values": [0, 50, 100], "title": null}}}},
      {"data": {"name": "p10_fit"}, "mark": {"type": "line", "color": "blue", "strokeWidth": 1.2, "interpolate": "monotone"}, "encoding": {"x": {"field": "v", "type": "quantitative", "scale": {"domain": [-5, 15], "nice": false}, "axis": null}, "y": {"field": "T", "type": "quantitative", "scale": {"domain": [-4.7, 103.3], "nice": false, "zero": false}, "axis": null}}},
      {"data": {"name": "p10_mod"}, "mark": {"type": "line", "color": "red", "strokeWidth": 1.2, "interpolate": "monotone"}, "encoding": {"x": {"field": "v", "type": "quantitative", "scale": {"domain": [-5, 15], "nice": false}, "axis": null}, "y": {"field": "T", "type": "quantitative", "scale": {"domain": [-0.91, 20], "nice": false, "zero": false}, "axis": null}}}
    ]},
    {"title": "G178.98-06.7", "width": 150, "height": 97, "resolve": {"scale": {"y": "independent"}}, "layer": [
      {"data": {"name": "p11_obs"}, "mark": {"type": "line", "color": "grey", "strokeWidth": 1.5, "interpolate": "monotone"}, "encoding": {"x": {"field": "v", "type": "quantitative", "scale": {"domain": [-5, 15], "nice": false}, "axis": null}, "y": {"field": "T", "type": "quantitative", "scale": {"domain": [-4.7, 103.3], "nice": false, "zero": false}, "axis": {"values": [0, 50, 100], "title": null}}}},
      {"data": {"name": "p11_fit"}, "mark": {"type": "line", "color": "blue", "strokeWidth": 1.2, "interpolate": "monotone"}, "encoding": {"x": {"field": "v", "type": "quantitative", "scale": {"domain": [-5, 15], "nice": false}, "axis": null}, "y": {"field": "T", "type": "quantitative", "scale": {"domain": [-4.7, 103.3], "nice": false, "zero": false}, "axis": null}}},
      {"data": {"name": "p11_mod"}, "mark": {"type": "line", "color": "red", "strokeWidth": 1.2, "interpolate": "monotone"}, "encoding": {"x": {"field": "v", "type": "quantitative", "scale": {"domain": [-5, 15], "nice": false}, "axis": null}, "y": {"field": "T", "type": "quantitative", "scale": {"domain": [-0.91, 20], "nice": false, "zero": false}, "axis": null}}}
    ]},
    {"title": "G192.2-11A2", "width": 150, "height": 97, "resolve": {"scale": {"y": "independent"}}, "layer": [
      {"data": {"name": "p12_obs"}, "mark": {"type": "line", "color": "grey", "strokeWidth": 1.5, "interpolate": "monotone"}, "encoding": {"x": {"field": "v", "type": "quantitative", "scale": {"domain": [-5, 15], "nice": false}, "axis": null}, "y": {"field": "T", "type": "quantitative", "scale": {"domain": [-4.7, 103.3], "nice": false, "zero": false}, "axis": {"values": [0, 50, 100], "title": null}}}},
      {"data": {"name": "p12_fit"}, "mark": {"type": "line", "color": "blue", "strokeWidth": 1.2, "interpolate": "monotone"}, "encoding": {"x": {"field": "v", "type": "quantitative", "scale": {"domain": [-5, 15], "nice": false}, "axis": null}, "y": {"field": "T", "type": "quantitative", "scale": {"domain": [-4.7, 103.3], "nice": false, "zero": false}, "axis": null}}},
      {"data": {"name": "p12_mod"}, "mark": {"type": "line", "color": "red", "strokeWidth": 1.2, "interpolate": "monotone"}, "encoding": {"x": {"field": "v", "type": "quantitative", "scale": {"domain": [-5, 15], "nice": false}, "axis": null}, "y": {"field": "T", "type": "quantitative", "scale": {"domain": [-0.91, 20], "nice": false, "zero": false}, "axis": null}}}
    ]},
    {"title": "L1489E", "width": 150, "height": 97, "resolve": {"scale": {"y": "independent"}}, "layer": [
      {"data": {"name": "p13_obs"}, "mark": {"type": "line", "color": "grey", "strokeWidth": 1.5, "interpolate": "monotone"}, "encoding": {"x": {"field": "v", "type": "quantitative", "scale": {"domain": [-5, 15], "nice": false}, "axis": null}, "y": {"field": "T", "type": "quantitative", "scale": {"domain": [-4.7, 103.3], "nice": false, "zero": false}, "axis": {"values": [0, 50, 100], "title": null}}}},
      {"data": {"name": "p13_mod"}, "mark": {"type": "line", "color": "red", "strokeWidth": 1.2, "interpolate": "monotone"}, "encoding": {"x": {"field": "v", "type": "quantitative", "scale": {"domain": [-5, 15], "nice": false}, "axis": null}, "y": {"field": "T", "type": "quantitative", "scale": {"domain": [-0.91, 20], "nice": false, "zero": false}, "axis": null}}}
    ]},
    {"title": "L1521B", "width": 150, "height": 97, "resolve": {"scale": {"y": "independent"}}, "layer": [
      {"data": {"name": "p14_obs"}, "mark": {"type": "line", "color": "grey", "strokeWidth": 1.5, "interpolate": "monotone"}, "encoding": {"x": {"field": "v", "type": "quantitative", "scale": {"domain": [-5, 15], "nice": false}, "axis": null}, "y": {"field": "T", "type": "quantitative", "scale": {"domain": [-4.7, 103.3], "nice": false, "zero": false}, "axis": {"values": [0, 50, 100], "title": null}}}},
      {"data": {"name": "p14_fit"}, "mark": {"type": "line", "color": "blue", "strokeWidth": 1.2, "interpolate": "monotone"}, "encoding": {"x": {"field": "v", "type": "quantitative", "scale": {"domain": [-5, 15], "nice": false}, "axis": null}, "y": {"field": "T", "type": "quantitative", "scale": {"domain": [-4.7, 103.3], "nice": false, "zero": false}, "axis": null}}},
      {"data": {"name": "p14_mod"}, "mark": {"type": "line", "color": "red", "strokeWidth": 1.2, "interpolate": "monotone"}, "encoding": {"x": {"field": "v", "type": "quantitative", "scale": {"domain": [-5, 15], "nice": false}, "axis": null}, "y": {"field": "T", "type": "quantitative", "scale": {"domain": [-0.91, 20], "nice": false, "zero": false}, "axis": null}}}
    ]},
    {"title": "05413-0104", "width": 150, "height": 97, "resolve": {"scale": {"y": "independent"}}, "layer": [
      {"data": {"name": "p15_obs"}, "mark": {"type": "line", "color": "grey", "strokeWidth": 1.5, "interpolate": "monotone"}, "encoding": {"x": {"field": "v", "type": "quantitative", "scale": {"domain": [-5, 15], "nice": false}, "axis": null}, "y": {"field": "T", "type": "quantitative", "scale": {"domain": [-4.7, 103.3], "nice": false, "zero": false}, "axis": {"values": [0, 50, 100], "title": null}}}},
      {"data": {"name": "p15_mod"}, "mark": {"type": "line", "color": "red", "strokeWidth": 1.2, "interpolate": "monotone"}, "encoding": {"x": {"field": "v", "type": "quantitative", "scale": {"domain": [-5, 15], "nice": false}, "axis": null}, "y": {"field": "T", "type": "quantitative", "scale": {"domain": [-0.91, 20], "nice": false, "zero": false}, "axis": null}}}
    ]},
    {"title": "HH25MMS", "width": 150, "height": 97, "resolve": {"scale": {"y": "independent"}}, "layer": [
      {"data": {"name": "p16_obs"}, "mark": {"type": "line", "color": "grey", "strokeWidth": 1.5, "interpolate": "monotone"}, "encoding": {"x": {"field": "v", "type": "quantitative", "scale": {"domain": [-5, 15], "nice": false}, "axis": null}, "y": {"field": "T", "type": "quantitative", "scale": {"domain": [-4.7, 103.3], "nice": false, "zero": false}, "axis": {"values": [0, 50, 100], "title": null}}}},
      {"data": {"name": "p16_fit"}, "mark": {"type": "line", "color": "blue", "strokeWidth": 1.2, "interpolate": "monotone"}, "encoding": {"x": {"field": "v", "type": "quantitative", "scale": {"domain": [-5, 15], "nice": false}, "axis": null}, "y": {"field": "T", "type": "quantitative", "scale": {"domain": [-4.7, 103.3], "nice": false, "zero": false}, "axis": null}}},
      {"data": {"name": "p16_mod"}, "mark": {"type": "line", "color": "red", "strokeWidth": 1.2, "interpolate": "monotone"}, "encoding": {"x": {"field": "v", "type": "quantitative", "scale": {"domain": [-5, 15], "nice": false}, "axis": null}, "y": {"field": "T", "type": "quantitative", "scale": {"domain": [-0.91, 20], "nice": false, "zero": false}, "axis": null}}}
    ]},
    {"title": "CB34", "width": 150, "height": 99, "resolve": {"scale": {"y": "independent"}}, "layer": [
      {"data": {"name": "p17_obs"}, "mark": {"type": "line", "color": "grey", "strokeWidth": 1.5, "interpolate": "monotone"}, "encoding": {"x": {"field": "v", "type": "quantitative", "scale": {"domain": [-5, 15], "nice": false}, "axis": {"values": [-5, 0, 5, 10, 15], "labelOverlap": false, "labelPadding": 4.5, "title": "Velocity (km/s)", "titlePadding": 4}}, "y": {"field": "T", "type": "quantitative", "scale": {"domain": [-5.5, 104.4], "nice": false, "zero": false}, "axis": {"values": [0, 50, 100], "title": "T (K)", "titlePadding": 3}}}},
      {"data": {"name": "p17_fit"}, "mark": {"type": "line", "color": "blue", "strokeWidth": 1.2, "interpolate": "monotone"}, "encoding": {"x": {"field": "v", "type": "quantitative", "scale": {"domain": [-5, 15], "nice": false}, "axis": {"values": [-5, 0, 5, 10, 15], "labelOverlap": false, "labelPadding": 4.5, "title": "Velocity (km/s)", "titlePadding": 4}}, "y": {"field": "T", "type": "quantitative", "scale": {"domain": [-5.5, 104.4], "nice": false, "zero": false}, "axis": null}}},
      {"data": {"name": "p17_mod"}, "mark": {"type": "line", "color": "red", "strokeWidth": 1.2, "interpolate": "monotone"}, "encoding": {"x": {"field": "v", "type": "quantitative", "scale": {"domain": [-5, 15], "nice": false}, "axis": {"values": [-5, 0, 5, 10, 15], "labelOverlap": false, "labelPadding": 4.5, "title": "Velocity (km/s)", "titlePadding": 4}}, "y": {"field": "T", "type": "quantitative", "scale": {"domain": [-1.06, 20], "nice": false, "zero": false}, "axis": {"orient": "right", "values": [0, 10, 20], "title": null, "labelColor": "red", "labelPadding": 2}}}}
    ]}
  ]
}
